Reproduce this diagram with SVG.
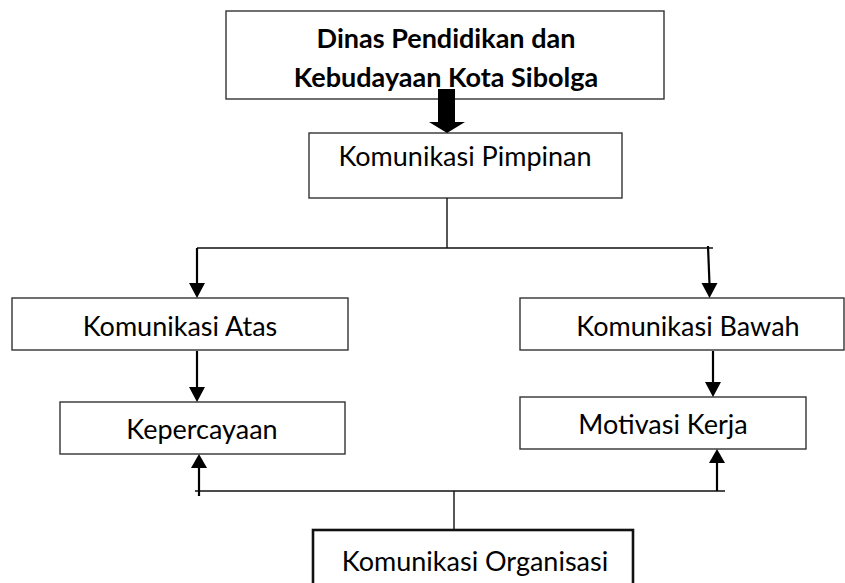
<svg xmlns="http://www.w3.org/2000/svg" width="845" height="583" viewBox="0 0 845 583">
<style>
.box{fill:#fff;stroke:#333;stroke-width:1.4}
.box2{fill:#fff;stroke:#111;stroke-width:2.6}
.t{font-family:Lato,"Liberation Sans",sans-serif;font-size:27px;fill:#000;text-anchor:middle}
.tb{font-family:Lato,"Liberation Sans",sans-serif;font-size:27px;font-weight:bold;fill:#000;text-anchor:middle}
.ln{fill:none;stroke:#111;stroke-width:1.4}
.ar{fill:none;stroke:#000;stroke-width:2.2}
.hd{fill:#000}
</style>
<defs>
<clipPath id="tc"><rect x="226" y="11" width="438" height="80"/></clipPath>
</defs>
<g id="node-dinas">
<rect class="box" x="226" y="11" width="438" height="88"/>
<g clip-path="url(#tc)">
<text class="tb" x="446" y="48">Dinas Pendidikan dan</text>
<text class="tb" x="446" y="87">Kebudayaan Kota Sibolga</text>
</g>
</g>
<g id="node-pimpinan">
<rect class="box" x="309" y="133" width="313" height="65"/>
<text class="t" x="465" y="166">Komunikasi Pimpinan</text>
</g>
<g id="node-atas">
<rect class="box" x="12" y="298" width="336" height="52"/>
<text class="t" x="180" y="336">Komunikasi Atas</text>
</g>
<g id="node-kepercayaan">
<rect class="box" x="60" y="402" width="285" height="52"/>
<text class="t" x="202" y="439">Kepercayaan</text>
</g>
<g id="node-bawah">
<rect class="box" x="520" y="298" width="324" height="52"/>
<text class="t" x="688" y="336">Komunikasi Bawah</text>
</g>
<g id="node-motivasi">
<rect class="box" x="520" y="397" width="286" height="52"/>
<text class="t" x="663" y="434">Motivasi Kerja</text>
</g>
<g id="node-organisasi">
<rect class="box2" x="313" y="530" width="320" height="70"/>
<text class="t" x="475" y="571">Komunikasi Organisasi</text>
</g>
<g id="connectors">
<polygon class="hd" points="438,89 455,89 455,122 465,122 447,133 429,122 438,122"/>
<path class="ln" d="M447,198 V248 M197,248 H713"/>
<path class="ar" d="M197,248 V284"/>
<polygon class="hd" points="189,283 205,283 197,298"/>
<path class="ar" d="M197,351 V388"/>
<polygon class="hd" points="189,387 205,387 197,402"/>
<path class="ar" d="M708,246 L709.5,284"/>
<polygon class="hd" points="701.5,283 717.5,283 709.5,298"/>
<path class="ar" d="M713,351 V383"/>
<polygon class="hd" points="705,382 721,382 713,397"/>
<path class="ln" d="M195,491 H725 M454,491 V530"/>
<path class="ar" d="M199,496 V467"/>
<polygon class="hd" points="191,468 207,468 199,454"/>
<path class="ar" d="M717,491 V462"/>
<polygon class="hd" points="709,463 725,463 717,449"/>
</g>
</svg>
